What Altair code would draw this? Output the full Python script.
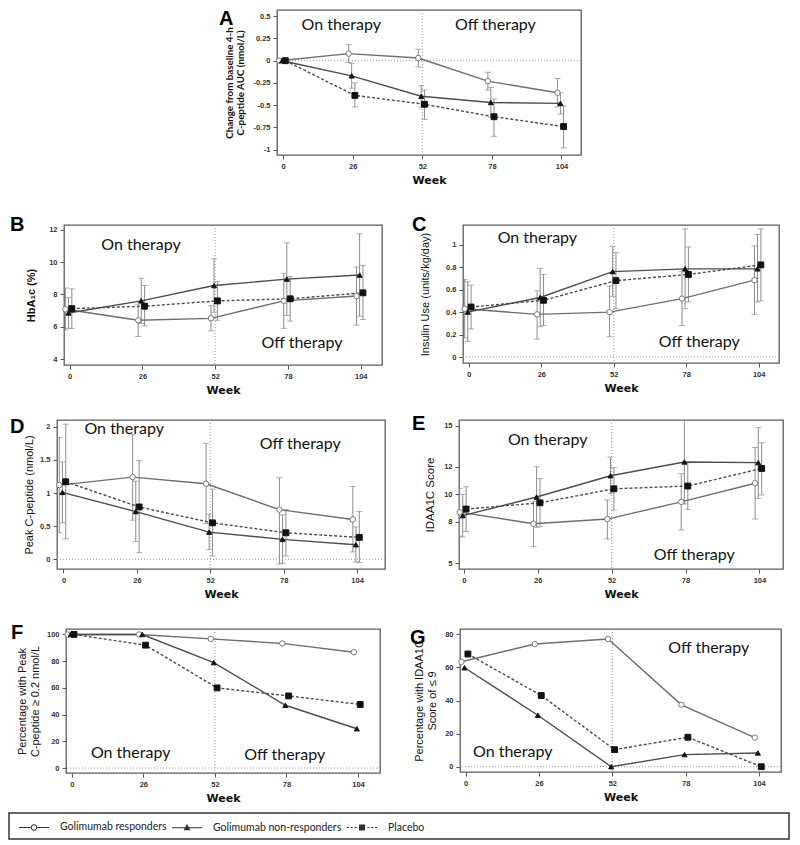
import altair as alt
import pandas as pd

WEEKS = [0, 26, 52, 78, 104]
GROUPS = ["Golimumab responders", "Golimumab non-responders", "Placebo"]
PHASES = ["On therapy", "Off therapy"]

# ---- Panel A: change from baseline 4-h C-peptide AUC
A_RESP = [0.0, 0.08, 0.03, -0.23, -0.36]
A_RESP_LO = [None, -0.02, -0.07, -0.33, -0.52]
A_RESP_HI = [None, 0.18, 0.13, -0.13, -0.20]
A_NONR = [0.0, -0.17, -0.40, -0.47, -0.48]
A_NONR_LO = [None, -0.31, -0.52, -0.64, -0.60]
A_NONR_HI = [None, -0.03, -0.28, -0.30, -0.36]
A_PLAC = [0.0, -0.39, -0.49, -0.63, -0.74]
A_PLAC_LO = [None, -0.52, -0.66, -0.85, -0.98]
A_PLAC_HI = [None, -0.25, -0.33, -0.43, -0.51]
A_YTICKS = [0.5, 0.25, 0, -0.25, -0.5, -0.75, -1]
A_TEXT_X = [21.7, 79.3]
A_TEXT_Y = [0.40, 0.40]

# ---- Panel B: HbA1c
B_RESP = [7.08, 6.40, 6.52, 7.60, 7.90]
B_RESP_LO = [5.80, 5.40, 5.75, 5.90, 6.10]
B_RESP_HI = [8.40, 7.40, 7.30, 9.30, 9.70]
B_NONR = [6.85, 7.60, 8.55, 8.95, 9.20]
B_NONR_LO = [5.90, 6.20, 6.90, 6.70, 6.65]
B_NONR_HI = [7.80, 9.00, 10.20, 11.20, 11.75]
B_PLAC = [7.12, 7.27, 7.60, 7.73, 8.10]
B_PLAC_LO = [5.90, 6.05, 6.40, 6.35, 6.45]
B_PLAC_HI = [8.35, 8.55, 8.80, 9.10, 9.80]
B_YTICKS = [4, 6, 8, 10, 12]
B_TEXT_X = [25.5, 83.0]
B_TEXT_Y = [11.04, 4.99]

# ---- Panel C: insulin use
C_RESP = [0.43, 0.38, 0.40, 0.52, 0.685]
C_RESP_LO = [0.17, 0.16, 0.18, 0.28, 0.38]
C_RESP_HI = [0.69, 0.59, 0.63, 0.76, 0.99]
C_NONR = [0.40, 0.53, 0.76, 0.785, 0.785]
C_NONR_LO = [0.14, 0.27, 0.54, 0.43, 0.49]
C_NONR_HI = [0.67, 0.79, 0.985, 1.14, 1.09]
C_PLAC = [0.445, 0.505, 0.68, 0.735, 0.82]
C_PLAC_LO = [0.25, 0.28, 0.43, 0.49, 0.50]
C_PLAC_HI = [0.64, 0.735, 0.93, 0.98, 1.14]
C_YTICKS = [0, 0.2, 0.4, 0.6, 0.8, 1]
C_TEXT_X = [24.6, 82.7]
C_TEXT_Y = [1.06, 0.13]

# ---- Panel D: peak C-peptide
D_RESP = [1.12, 1.24, 1.14, 0.75, 0.60]
D_RESP_LO = [0.40, 0.59, 0.54, -0.07, 0.11]
D_RESP_HI = [1.84, 1.88, 1.75, 1.23, 1.10]
D_NONR = [1.01, 0.72, 0.41, 0.30, 0.22]
D_NONR_LO = [0.55, 0.27, 0.15, -0.06, -0.04]
D_NONR_HI = [1.47, 1.18, 0.68, 0.67, 0.49]
D_PLAC = [1.17, 0.79, 0.55, 0.40, 0.33]
D_PLAC_LO = [0.31, 0.10, 0.05, 0.05, -0.05]
D_PLAC_HI = [2.04, 1.49, 1.06, 0.75, 0.72]
D_YTICKS = [0, 0.5, 1, 1.5, 2]
D_TEXT_X = [21.5, 83.9]
D_TEXT_Y = [1.97, 1.745]

# ---- Panel E: IDAA1C score
E_RESP = [8.70, 7.86, 8.20, 9.45, 10.80]
E_RESP_LO = [6.95, 6.20, 6.75, 7.40, 8.20]
E_RESP_HI = [10.40, 9.50, 9.60, 11.50, 13.40]
E_NONR = [8.45, 9.80, 11.35, 12.35, 12.30]
E_NONR_LO = [6.90, 7.60, 10.05, 9.30, 9.70]
E_NONR_HI = [10.00, 12.00, 12.70, 15.40, 14.85]
E_PLAC = [8.93, 9.38, 10.40, 10.60, 11.88]
E_PLAC_LO = [7.30, 7.65, 8.85, 8.90, 9.95]
E_PLAC_HI = [10.55, 11.15, 11.95, 12.30, 13.75]
E_YTICKS = [5, 8, 10, 12, 15]
E_TEXT_X = [29.5, 81.1]
E_TEXT_Y = [13.93, 5.6]

# ---- Panel F: % with peak C-peptide >= 0.2 nmol/L
F_RESP = [100, 100, 96.7, 93.3, 86.7]
F_NONR = [100, 100, 79.0, 47.0, 29.4]
F_PLAC = [100, 92.0, 60.0, 54.0, 47.6]
F_YTICKS = [0, 20, 40, 60, 80, 100]
F_TEXT_X = [21.4, 77.4]
F_TEXT_Y = [11.5, 9.7]

# ---- Panel G: % with IDAA1C score <= 9
G_RESP = [63.4, 74.1, 77.2, 37.4, 17.6]
G_NONR = [59.8, 31.1, 0.0, 7.3, 8.3]
G_PLAC = [68.1, 43.0, 10.3, 17.8, 0.0]
G_YTICKS = [0, 20, 40, 60, 80]
G_TEXT_X = [16.7, 86.2]
G_TEXT_Y = [8.9, 71.6]

# ---------------- styling ----------------
STYLE = {
    "Golimumab responders": dict(line="#6e6e6e", dash=None, shape="circle", fill="white",
                                 stroke="#7a7a7a", size=30, dodge=-1.5),
    "Golimumab non-responders": dict(line="#4d4d4d", dash=None, shape="triangle-up", fill="#151515",
                                     stroke="#151515", size=26, dodge=-0.4),
    "Placebo": dict(line="#4d4d4d", dash=[3, 2], shape="square", fill="#111111",
                    stroke="#111111", size=34, dodge=0.8),
}
ERR_COLOR = "#8c8c8c"
FRAME = alt.ViewBackground(stroke="#5c5c5c", strokeWidth=1.3)
BASE_AXIS = dict(labelFont="Liberation Sans", labelFontSize=7.5, labelFontWeight="bold",
                 labelColor="#333333", tickColor="#555555", tickSize=4, tickWidth=1,
                 domain=False, grid=False, labelPadding=3, labelExpr="'' + datum.value",
                 titleColor="#111111")


def make_df(vals, los=None, his=None):
    rows = []
    for gi, g in enumerate(GROUPS):
        for i, w in enumerate(WEEKS):
            rows.append({
                "group": g,
                "xpos": w + STYLE[g]["dodge"],
                "value": vals[gi][i],
                "lo": los[gi][i] if los else None,
                "hi": his[gi][i] if his else None,
            })
    return pd.DataFrame(rows)


def panel(letter, vals, los, his, yticks, ydom, xdom, ytitle, yfont, text_x, text_y,
          w, h, dx, dy):
    df = make_df(vals, los, his)
    xs = alt.Scale(domain=xdom, nice=False, zero=False)
    ys = alt.Scale(domain=ydom, nice=False, zero=False)
    xaxis = alt.Axis(values=WEEKS, title="Week", titleFont="DejaVu Sans", titleFontSize=11,
                     titleFontWeight="bold", titlePadding=5, labelFlush=False, **BASE_AXIS)
    yaxis = alt.Axis(values=yticks, title=ytitle, **yfont, **BASE_AXIS)

    def X(f):
        return alt.X(f, type="quantitative", scale=xs, axis=xaxis)

    def Y(f):
        return alt.Y(f, type="quantitative", scale=ys, axis=yaxis)

    layers = []
    layers.append(
        alt.Chart(pd.DataFrame({"xpos": [52]}))
        .mark_rule(color="#9a9a9a", strokeDash=[1, 2], strokeWidth=1)
        .encode(x=X("xpos"))
    )
    if ydom[0] < 0 < ydom[1]:
        layers.append(
            alt.Chart(pd.DataFrame({"value": [0]}))
            .mark_rule(color="#9a9a9a", strokeDash=[1, 2], strokeWidth=1)
            .encode(y=Y("value"))
        )
    if los is not None:
        err = df.dropna(subset=["lo", "hi"])
        layers.append(alt.Chart(err).mark_rule(color=ERR_COLOR, strokeWidth=1, clip=True)
                      .encode(x=X("xpos"), y=Y("lo"), y2="hi"))
        for f in ["lo", "hi"]:
            layers.append(alt.Chart(err).mark_tick(color=ERR_COLOR, orient="horizontal", size=6,
                                                   thickness=1, clip=True)
                          .encode(x=X("xpos"), y=Y(f)))
    for g in GROUPS:
        st = STYLE[g]
        d = df[df["group"] == g]
        line_kw = dict(color=st["line"], strokeWidth=1.4)
        if st["dash"]:
            line_kw["strokeDash"] = st["dash"]
        layers.append(alt.Chart(d).mark_line(**line_kw).encode(x=X("xpos"), y=Y("value")))
    for g in GROUPS:
        st = STYLE[g]
        d = df[df["group"] == g]
        layers.append(
            alt.Chart(d).mark_point(shape=st["shape"], size=st["size"], filled=True, fill=st["fill"],
                                    stroke=st["stroke"], strokeWidth=1, opacity=1)
            .encode(x=X("xpos"), y=Y("value"))
        )
    tdf = pd.DataFrame({"label": PHASES, "xpos": text_x, "value": text_y})
    layers.append(
        alt.Chart(tdf).mark_text(font="Lato", fontSize=16, color="#111111", align="center",
                                 baseline="middle")
        .encode(x=X("xpos"), y=Y("value"), text="label")
    )
    return alt.layer(*layers).properties(
        width=w, height=h, view=FRAME,
        title=alt.TitleParams(text=letter, orient="none", anchor="start", frame="group",
                              font="Liberation Sans", fontSize=20, fontWeight="bold",
                              color="#000000", dx=dx, dy=dy, offset=0, baseline="top",
                              align="left"),
    )


SP_DF = pd.DataFrame({"v": [0]})


def spacer(w, h):
    return (alt.Chart(SP_DF).mark_point(opacity=0).transform_filter("false")
            .properties(width=w, height=h, view=alt.ViewBackground(stroke="transparent")))


def yf(font="Liberation Sans", size=11, weight="normal", pad=6, lh=13):
    return dict(titleFont=font, titleFontSize=size, titleFontWeight=weight, titlePadding=pad,
                titleLineHeight=lh)


pA = panel("A", [A_RESP, A_NONR, A_PLAC], [A_RESP_LO, A_NONR_LO, A_PLAC_LO],
           [A_RESP_HI, A_NONR_HI, A_PLAC_HI], A_YTICKS, [-1.06, 0.57], [-2.3, 111.3],
           ["Change from baseline 4-h", "C-peptide AUC (nmol/L)"], yf("Lato", 9.8, "bold", 7, 11.5),
           A_TEXT_X, A_TEXT_Y, 304, 145, -58, -1.0)
pB = panel("B", [B_RESP, B_NONR, B_PLAC], [B_RESP_LO, B_NONR_LO, B_PLAC_LO],
           [B_RESP_HI, B_NONR_HI, B_PLAC_HI], B_YTICKS, [3.63, 12.3], [-2.0, 111.6],
           "HbA\u2081c (%)", yf(weight="bold", pad=12), B_TEXT_X, B_TEXT_Y, 318, 140, -54, -9.7)
pC = panel("C", [C_RESP, C_NONR, C_PLAC], [C_RESP_LO, C_NONR_LO, C_PLAC_LO],
           [C_RESP_HI, C_NONR_HI, C_PLAC_HI], C_YTICKS, [-0.053, 1.175], [-2.1, 111.3],
           "Insulin Use (units/kg/day)", yf(pad=15), C_TEXT_X, C_TEXT_Y, 316, 138, -51, -9.7)
pD = panel("D", [D_RESP, D_NONR, D_PLAC], [D_RESP_LO, D_NONR_LO, D_PLAC_LO],
           [D_RESP_HI, D_NONR_HI, D_PLAC_HI], D_YTICKS, [-0.147, 2.103], [-2.3, 113.9],
           "Peak C-peptide (nmol/L)", yf(pad=5), D_TEXT_X, D_TEXT_Y, 328, 149, -47, -2.7)
pE = panel("E", [E_RESP, E_NONR, E_PLAC], [E_RESP_LO, E_NONR_LO, E_PLAC_LO],
           [E_RESP_HI, E_NONR_HI, E_PLAC_HI], E_YTICKS, [4.57, 15.4], [-1.7, 112.3],
           "IDAA1C Score", yf(size=11.5, pad=8), E_TEXT_X, E_TEXT_Y, 324, 149, -47, -5.7)
pF = panel("F", [F_RESP, F_NONR, F_PLAC], None, None, F_YTICKS, [-3.7, 104.1], [-2.1, 112.0],
           ["Percentage with Peak", "C-peptide \u2265 0.2 nmol/L"], yf(pad=6),
           F_TEXT_X, F_TEXT_Y, 314, 144, -55, -5.7)
pG = panel("G", [G_RESP, G_NONR, G_PLAC], None, None, G_YTICKS, [-3.2, 83.2], [-2.0, 111.8],
           ["Percentage with IDAA1C", "Score of \u2264 9"], yf(pad=7),
           G_TEXT_X, G_TEXT_Y, 321, 143, -50, -0.7)

# ---------------- legend (real Vega legend, custom line+marker symbols) ----------------
LEG_PATHS = [
    "M-3,-0.1H-0.65V0.1H-3Z M0.65,-0.1H3V0.1H0.65Z "
    "M0.65,0A0.65,0.65,0,1,1,-0.65,0A0.65,0.65,0,1,1,0.65,0Z "
    "M0.45,0A0.45,0.45,0,1,0,-0.45,0A0.45,0.45,0,1,0,0.45,0Z",
    "M-3,-0.1H3V0.1H-3Z M0,-0.75L0.7,0.5L-0.7,0.5Z",
    "M-3,-0.1H-2.6V0.1H-3Z M-2.25,-0.1H-1.85V0.1H-2.25Z M-1.5,-0.1H-1.1V0.1H-1.5Z "
    "M-0.6,-0.6H0.6V0.6H-0.6Z M1.1,-0.1H1.5V0.1H1.1Z M1.85,-0.1H2.25V0.1H1.85Z M2.6,-0.1H3V0.1H2.6Z",
]
legend_chart = (
    alt.Chart(pd.DataFrame({"group": GROUPS}))
    .mark_point(filled=True, color="#333333", opacity=1)
    .transform_filter("false")
    .encode(shape=alt.Shape("group:N", scale=alt.Scale(domain=GROUPS, range=LEG_PATHS),
                            legend=alt.Legend(title=None, orient="none", legendX=19, legendY=8,
                                              direction="horizontal", symbolSize=100,
                                              labelFont="Lato", labelFontSize=10.5,
                                              labelColor="#222222", labelOffset=20,
                                              columnPadding=2, padding=0)))
    .properties(width=780, height=26, view=alt.ViewBackground(stroke="#333333", strokeWidth=1.5))
)

# rows: leading spacer sets the left position and the row's vertical extent
rowA = alt.hconcat(spacer(267.6, 203.3), pA, spacing=0, bounds="flush")
rowBC = alt.hconcat(spacer(55, 186.8), pB, spacer(80.6, 1), pC, spacing=0, bounds="flush")
rowDE = alt.hconcat(spacer(48, 201.3), pD, spacer(73.7, 1), pE, spacing=0, bounds="flush")
rowFG = alt.hconcat(spacer(57, 182.3), pF, spacer(79.7, 1), pG, spacing=0, bounds="flush")

chart = alt.vconcat(
    rowA, rowBC, rowDE, rowFG, legend_chart,
    spacing=0, padding=0, background="white",
).resolve_scale(shape="independent").resolve_legend(shape="independent")

chart.save("out.html", embed_options={"renderer": "svg", "actions": False})
